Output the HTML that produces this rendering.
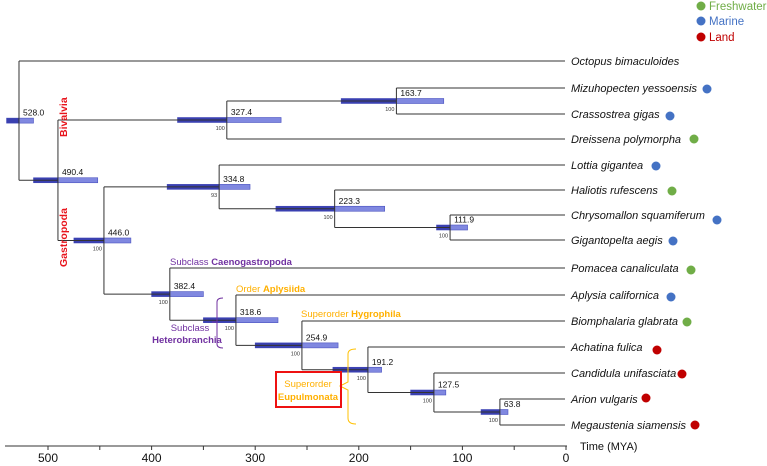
<!DOCTYPE html>
<html><head><meta charset="utf-8"><style>
body{margin:0;background:#fff;}
svg{display:block;font-family:"Liberation Sans",Arial,sans-serif;}
</style></head><body>
<svg id="chart" width="767" height="466" viewBox="0 0 767 466" xmlns="http://www.w3.org/2000/svg">
<g id="legend">
 <g><circle cx="701" cy="6" r="4.5" fill="#70ad47"/><text x="709" y="10" font-size="11.5" fill="#70ad47">Freshwater</text></g>
 <g><circle cx="701" cy="21" r="4.5" fill="#4472c4"/><text x="709" y="25" font-size="11.5" fill="#4472c4">Marine</text></g>
 <g><circle cx="701" cy="37" r="4.5" fill="#c00000"/><text x="709" y="41" font-size="11.5" fill="#c00000">Land</text></g>
</g>
<g id="bars"></g>
<g id="branches"></g>
<g id="labels"></g>
<g id="axis"></g>
<g id="annot">
 <text transform="translate(67,137) rotate(-90)" font-size="10.5" font-weight="bold" fill="#e8141c">Bivalvia</text>
 <text transform="translate(67,267) rotate(-90)" font-size="10.5" font-weight="bold" fill="#e8141c">Gastropoda</text>
 <text x="170" y="265" font-size="9.5" fill="#7030a0">Subclass <tspan font-weight="bold">Caenogastropoda</tspan></text>
 <text x="236" y="292" font-size="9.5" fill="#ffb000">Order <tspan font-weight="bold">Aplysiida</tspan></text>
 <text x="301" y="317" font-size="9.5" fill="#ffb000">Superorder <tspan font-weight="bold">Hygrophila</tspan></text>
 <text x="190" y="331" font-size="9.5" fill="#7030a0" text-anchor="middle">Subclass</text>
 <text x="187" y="343" font-size="9.5" font-weight="bold" fill="#7030a0" text-anchor="middle">Heterobranchia</text>
 <path d="M223,298 Q217,298 217,302 L217,344 Q217,348 223,348 M217,322 L212,322" fill="none" stroke="#7030a0" stroke-width="1"/>
 <path d="M356,349 Q348,349 348,354 L348,382 L340,386 L348,390 L348,418 Q348,424 356,424" fill="none" stroke="#ffc000" stroke-width="1"/>
 <rect x="276" y="372" width="65" height="35" fill="none" stroke="#ee1111" stroke-width="2"/>
 <text x="308" y="387" font-size="9.5" fill="#ffb000" text-anchor="middle">Superorder</text>
 <text x="308" y="400" font-size="9.5" font-weight="bold" fill="#ffb000" text-anchor="middle">Eupulmonata</text>
</g>
<script>
// data
const leafNames=["Octopus bimaculoides","Mizuhopecten yessoensis","Crassostrea gigas","Dreissena polymorpha","Lottia gigantea","Haliotis rufescens","Chrysomallon squamiferum","Gigantopelta aegis","Pomacea canaliculata","Aplysia californica","Biomphalaria glabrata","Achatina fulica","Candidula unifasciata","Arion vulgaris","Megaustenia siamensis"];
const leafHabitat=["none","marine","marine","fresh","marine","fresh","marine","marine","fresh","marine","fresh","land","land","land","land"];
const nodeIds=["root","bival","gastro","n3274","n1637","n3348","n2233","n1119","n4460","n3824","n3186","n2549","n1912","n1275","n638"];
const nodeAge=[528.0,490.4,446.0,327.4,163.7,334.8,223.3,111.9,446.0,382.4,318.6,254.9,191.2,127.5,63.8];
const nodeLow=[514,452,420,275,118,305,175,95,420,350,278,220,178,116,56];
const nodeHigh=[540,514,475,375,217,385,280,125,475,400,350,300,225,150,82];
const nodeSupport=["","","100","100","100","93","100","100","100","100","100","100","100","100","100"];
const nodeShowAge=[true,true,false,true,true,true,true,true,true,true,true,true,true,true,true];
const nodeChildren=[["L0","bival"],["n3274","n4460"],[],["n1637","L3"],["L1","L2"],["L4","n2233"],["L5","n1119"],["L6","L7"],["n3348","n3824"],["L8","n3186"],["L9","n2549"],["L10","n1912"],["L11","n1275"],["L12","n638"],["L13","L14"]];
const tickValues=[500,400,300,200,100,0];
const minorTicks=[550,500,450,400,350,300,250,200,150,100,50,0];
// layout
const leafY=[61,88,114,139,165,190,215,240,268,295,321,347,373,399,425];
const dotX=[0,707,670,694,656,672,717,673,691,671,687,657,682,646,695];
const dotDY=[0,1,2,0,1,1,5,1,2,2,1,3,1,-1,0];
const x=t=>566-1.036*t;
const NS="http://www.w3.org/2000/svg";
const colors={fresh:"#70ad47",marine:"#4472c4",land:"#c00000"};
const idx=id=>nodeIds.indexOf(id);
const yCache={};
function nodeY(id){
 if(id[0]==="L")return leafY[+id.slice(1)];
 if(yCache[id]!==undefined)return yCache[id];
 const i=idx(id);const c=nodeChildren[i];
 return yCache[id]=(nodeY(c[0])+nodeY(c[1]))/2;
}
function mk(tag,attrs,parent){const e=document.createElementNS(NS,tag);for(const k in attrs)e.setAttribute(k,attrs[k]);document.getElementById(parent).appendChild(e);return e;}
function age(id){return id[0]==="L"?0:nodeAge[idx(id)];}
const drawn=["root","bival","n3274","n1637","n3348","n2233","n1119","n4460","n3824","n3186","n2549","n1912","n1275","n638"];
drawn.forEach(id=>{
 const i=idx(id);const nx=x(nodeAge[i]);const ny=nodeY(id);
 const c=nodeChildren[i];
 const y0=nodeY(c[0]),y1=nodeY(c[1]);
 let p=`M${nx},${y0} L${nx},${y1}`;
 c.forEach(ch=>{const cy=nodeY(ch);const cx=ch[0]==="L"?565:x(age(ch));p+=` M${nx},${cy} L${cx},${cy}`;});
 const br=mk("path",{d:p,stroke:"#333",fill:"none","stroke-width":1},"branches");
 
 
 const lx=x(nodeHigh[i]),rx=x(nodeLow[i]);
 const bar=mk("rect",{x:lx,y:ny-2.5,width:rx-lx,height:5,fill:"#8088e0",stroke:"#4a52c0","stroke-width":0.6},"bars");
 
 
 const bd=mk("rect",{x:lx,y:ny-2.5,width:Math.max(0,nx-lx),height:5,fill:"#3a40b0"},"bars");
 
 
 if(nodeShowAge[i]){
  const t=mk("text",{x:nx+4,y:ny-5,"font-size":8.5,fill:"#111"},"labels");t.textContent=nodeAge[i].toFixed(1);
  
  
 }
 if(nodeSupport[i]){
  const s=mk("text",{x:nx-2,y:ny+10,"font-size":5.5,fill:"#333","text-anchor":"end"},"labels");s.textContent=nodeSupport[i];
  
  
 }
});
leafNames.forEach((n,i)=>{
 const t=mk("text",{x:571,y:leafY[i]+4,"font-size":11,"font-style":"italic",fill:"#111"},"labels");t.textContent=n;
 
 
 if(leafHabitat[i]!=="none"){
  const d=mk("circle",{cx:dotX[i],cy:leafY[i]+dotDY[i],r:4.5,fill:colors[leafHabitat[i]]},"labels");
  
  
 }
});
const ax=mk("line",{x1:5,x2:567,y1:446,y2:446,stroke:"#333","stroke-width":1},"axis");


minorTicks.forEach(v=>{const l=mk("line",{x1:x(v),x2:x(v),y1:446,y2:450,stroke:"#333"},"axis");
 
 });
tickValues.forEach(v=>{const t=mk("text",{x:x(v),y:462,"font-size":12,"text-anchor":"middle",fill:"#111"},"axis");t.textContent=v;
 
 });
const at=mk("text",{x:580,y:450,"font-size":11,fill:"#111"},"axis");at.textContent="Time (MYA)";


</script>
</svg>
</body></html>
